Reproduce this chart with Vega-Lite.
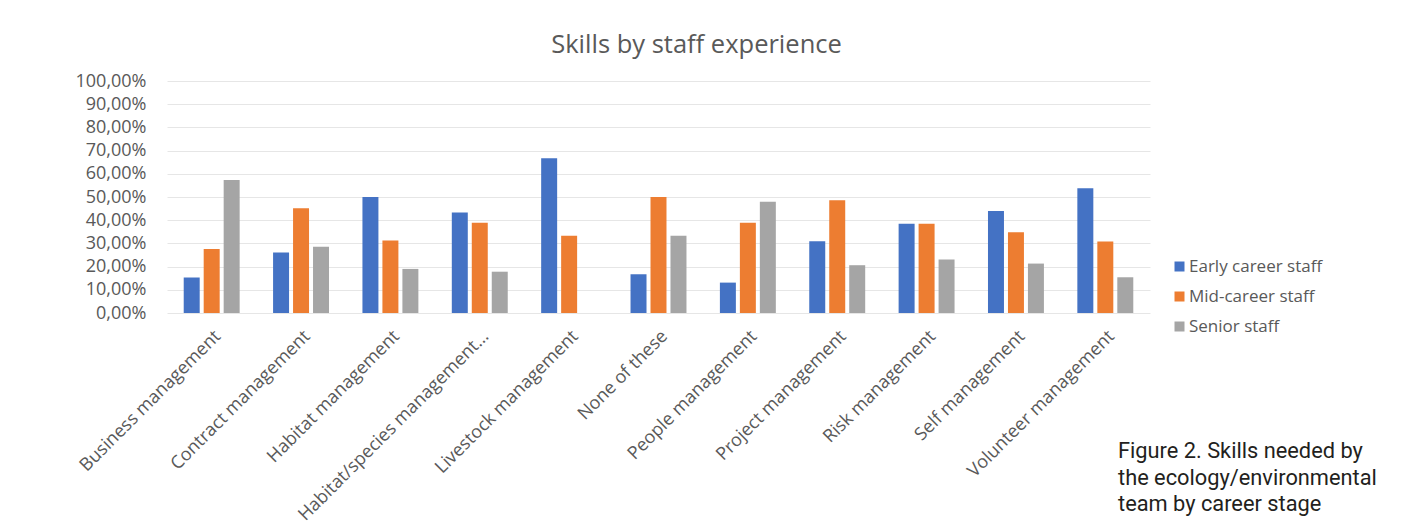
{
  "$schema": "https://vega.github.io/schema/vega-lite/v6.json",
  "width": 983,
  "height": 232,
  "autosize": {"type": "none"},
  "padding": {"left": 167, "top": 81, "right": 254, "bottom": 211},
  "background": "white",
  "config": {
    "locale": {"number": {"decimal": ",", "thousands": ".", "grouping": [3], "currency": ["", " €"]}},
    "view": {"stroke": null},
    "font": "Open Sans"
  },
  "title": {
    "text": "Skills by staff experience",
    "font": "Open Sans",
    "fontSize": 25.5,
    "fontWeight": "normal",
    "color": "#595959",
    "anchor": "middle",
    "frame": "group",
    "dx": 38,
    "offset": 14
  },
  "data": {
    "values": [
      {"skill": "Business management", "stage": "Early career staff", "value": 0.153},
      {"skill": "Business management", "stage": "Mid-career staff", "value": 0.276},
      {"skill": "Business management", "stage": "Senior staff", "value": 0.573},
      {"skill": "Contract management", "stage": "Early career staff", "value": 0.261},
      {"skill": "Contract management", "stage": "Mid-career staff", "value": 0.451},
      {"skill": "Contract management", "stage": "Senior staff", "value": 0.286},
      {"skill": "Habitat management", "stage": "Early career staff", "value": 0.5},
      {"skill": "Habitat management", "stage": "Mid-career staff", "value": 0.312},
      {"skill": "Habitat management", "stage": "Senior staff", "value": 0.19},
      {"skill": "Habitat/species management...", "stage": "Early career staff", "value": 0.433},
      {"skill": "Habitat/species management...", "stage": "Mid-career staff", "value": 0.389},
      {"skill": "Habitat/species management...", "stage": "Senior staff", "value": 0.178},
      {"skill": "Livestock management", "stage": "Early career staff", "value": 0.667},
      {"skill": "Livestock management", "stage": "Mid-career staff", "value": 0.333},
      {"skill": "None of these", "stage": "Early career staff", "value": 0.167},
      {"skill": "None of these", "stage": "Mid-career staff", "value": 0.5},
      {"skill": "None of these", "stage": "Senior staff", "value": 0.333},
      {"skill": "People management", "stage": "Early career staff", "value": 0.131},
      {"skill": "People management", "stage": "Mid-career staff", "value": 0.389},
      {"skill": "People management", "stage": "Senior staff", "value": 0.48},
      {"skill": "Project management", "stage": "Early career staff", "value": 0.309},
      {"skill": "Project management", "stage": "Mid-career staff", "value": 0.486},
      {"skill": "Project management", "stage": "Senior staff", "value": 0.206},
      {"skill": "Risk management", "stage": "Early career staff", "value": 0.385},
      {"skill": "Risk management", "stage": "Mid-career staff", "value": 0.385},
      {"skill": "Risk management", "stage": "Senior staff", "value": 0.231},
      {"skill": "Self management", "stage": "Early career staff", "value": 0.44},
      {"skill": "Self management", "stage": "Mid-career staff", "value": 0.348},
      {"skill": "Self management", "stage": "Senior staff", "value": 0.213},
      {"skill": "Volunteer management", "stage": "Early career staff", "value": 0.538},
      {"skill": "Volunteer management", "stage": "Mid-career staff", "value": 0.308},
      {"skill": "Volunteer management", "stage": "Senior staff", "value": 0.154}
    ]
  },
  "mark": {"type": "bar"},
  "encoding": {
    "x": {
      "field": "skill",
      "type": "nominal",
      "sort": null,
      "scale": {"paddingInner": 0.374, "paddingOuter": 0.187},
      "axis": {
        "title": null,
        "labelAngle": -45,
        "labelFont": "Open Sans",
        "labelFontSize": 18,
        "labelColor": "#595959",
        "ticks": false,
        "domain": false,
        "labelPadding": 14,
        "labelLimit": 0
      }
    },
    "xOffset": {
      "field": "stage",
      "type": "nominal",
      "sort": ["Early career staff", "Mid-career staff", "Senior staff"],
      "scale": {"paddingInner": 0.2, "paddingOuter": 0}
    },
    "y": {
      "field": "value",
      "type": "quantitative",
      "scale": {"domain": [0, 1], "nice": false},
      "axis": {
        "title": null,
        "format": ".2%",
        "values": [0, 0.1, 0.2, 0.3, 0.4, 0.5, 0.6, 0.7, 0.8, 0.9, 1],
        "grid": true,
        "gridColor": "#e6e6e6",
        "gridWidth": 1,
        "domain": false,
        "ticks": false,
        "labelPadding": 21,
        "labelFont": "Open Sans",
        "labelFontSize": 18,
        "labelColor": "#595959"
      }
    },
    "color": {
      "field": "stage",
      "type": "nominal",
      "scale": {
        "domain": ["Early career staff", "Mid-career staff", "Senior staff"],
        "range": ["#4472C4", "#ED7D31", "#A5A5A5"]
      },
      "legend": {
        "orient": "none",
        "legendX": 951,
        "legendY": 177,
        "title": ["Figure 2. Skills needed by", "the ecology/environmental", "team by career stage"],
        "titleOrient": "bottom",
        "titleAnchor": "start",
        "titleAlign": "left",
        "titleFont": "Roboto",
        "titleFontSize": 21.8,
        "titleFontWeight": "normal",
        "titleColor": "#231f20",
        "titleLineHeight": 26.5,
        "titlePadding": 106,
        "titleLimit": 0,
        "symbolType": "square",
        "symbolSize": 100,
        "symbolStrokeWidth": 0,
        "symbolOffset": 53,
        "labelOffset": 1,
        "labelFont": "Open Sans",
        "labelFontSize": 17,
        "labelColor": "#595959",
        "rowPadding": 12
      }
    }
  }
}
